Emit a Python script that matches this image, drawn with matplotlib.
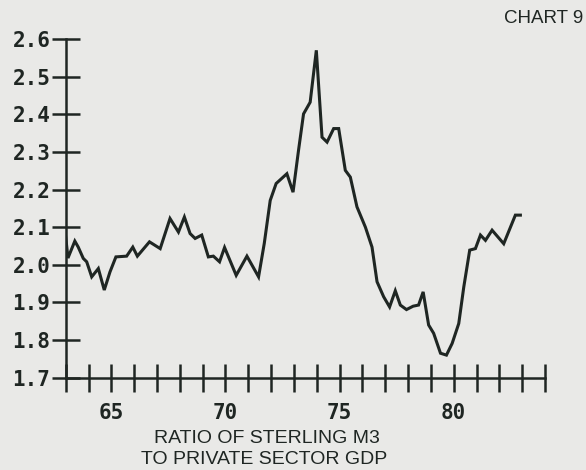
import matplotlib
matplotlib.use("Agg")
import matplotlib.pyplot as plt

# ratio of sterling M3 to private sector GDP
years = [1963.0, 1963.1, 1963.4, 1963.55, 1963.77, 1963.92, 1964.14, 1964.43,
         1964.69, 1964.94, 1965.2, 1965.67, 1965.94, 1966.14, 1966.67, 1967.14,
         1967.57, 1967.94, 1968.2, 1968.45, 1968.67, 1968.96, 1969.25, 1969.47,
         1969.74, 1969.96, 1970.47, 1970.94, 1971.45, 1971.7, 1971.96, 1972.22,
         1972.69, 1972.96, 1973.2, 1973.42, 1973.71, 1973.98, 1974.23, 1974.45,
         1974.74, 1974.96, 1975.25, 1975.47, 1975.76, 1976.13, 1976.42, 1976.64,
         1976.93, 1977.19, 1977.44, 1977.66, 1977.93, 1978.22, 1978.46, 1978.66,
         1978.9, 1979.12, 1979.42, 1979.68, 1979.93, 1980.22, 1980.44, 1980.7,
         1980.95, 1981.17, 1981.39, 1981.68, 1982.19, 1982.7, 1982.92]
ratio = [2.074, 2.018, 2.063, 2.047, 2.017, 2.008, 1.968, 1.990,
         1.933, 1.981, 2.021, 2.023, 2.047, 2.023, 2.061, 2.043,
         2.123, 2.087, 2.127, 2.083, 2.070, 2.079, 2.021, 2.023,
         2.008, 2.046, 1.972, 2.023, 1.968, 2.057, 2.171, 2.216,
         2.242, 2.193, 2.304, 2.401, 2.432, 2.570, 2.339, 2.326,
         2.362, 2.362, 2.251, 2.233, 2.154, 2.100, 2.047, 1.955,
         1.915, 1.888, 1.931, 1.893, 1.881, 1.890, 1.893, 1.928,
         1.840, 1.818, 1.765, 1.760, 1.791, 1.844, 1.941, 2.039,
         2.043, 2.079, 2.065, 2.092, 2.056, 2.132, 2.132]

yticks = [1.7, 1.8, 1.9, 2.0, 2.1, 2.2, 2.3, 2.4, 2.5, 2.6]
ytick_labels = ["1.7", "1.8", "1.9", "2.0", "2.1", "2.2", "2.3", "2.4", "2.5", "2.6"]
xticks = list(range(1963, 1985))
xlabelled = {1965: "65", 1970: "70", 1975: "75", 1980: "80"}

ink = "#1f2623"
paper = "#e9e9e7"

fig = plt.figure(figsize=(5.86, 4.70), dpi=100, facecolor=paper)
ax = fig.add_axes([0.1121, 0.1964, 0.818, 0.7206], facecolor=paper)

ax.plot(years, ratio, color=ink, linewidth=2.2, solid_joinstyle="miter")

ax.set_xlim(1963, 1984)
ax.set_ylim(1.7, 2.6)
for s in ["top", "right"]:
    ax.spines[s].set_visible(False)
for s in ["left", "bottom"]:
    ax.spines[s].set_color(ink)
    ax.spines[s].set_linewidth(1.8)

mono = {"family": "DejaVu Sans Mono", "weight": "bold", "size": 15}
ax.set_yticks(yticks)
ax.set_yticklabels(ytick_labels, fontdict=mono, color=ink)
ax.set_xticks(xticks)
ax.set_xticklabels([xlabelled.get(x, "") for x in xticks], fontdict=mono, color=ink)
ax.tick_params(axis="both", direction="inout", length=20, width=1.8, color=ink)
ax.tick_params(axis="y", pad=1)
ax.tick_params(axis="x", pad=8)

fig.text(0.456, 0.066, "RATIO OF STERLING M3", ha="center", va="center",
         family="Liberation Sans", fontsize=14, color=ink)
fig.text(0.450, 0.022, "TO PRIVATE SECTOR GDP", ha="center", va="center",
         family="Liberation Sans", fontsize=14, color=ink)
fig.text(0.995, 0.96, "CHART 9", ha="right", va="center",
         family="Liberation Sans", fontsize=13.5, color=ink)

plt.savefig("out.png", dpi=100, facecolor=paper)
